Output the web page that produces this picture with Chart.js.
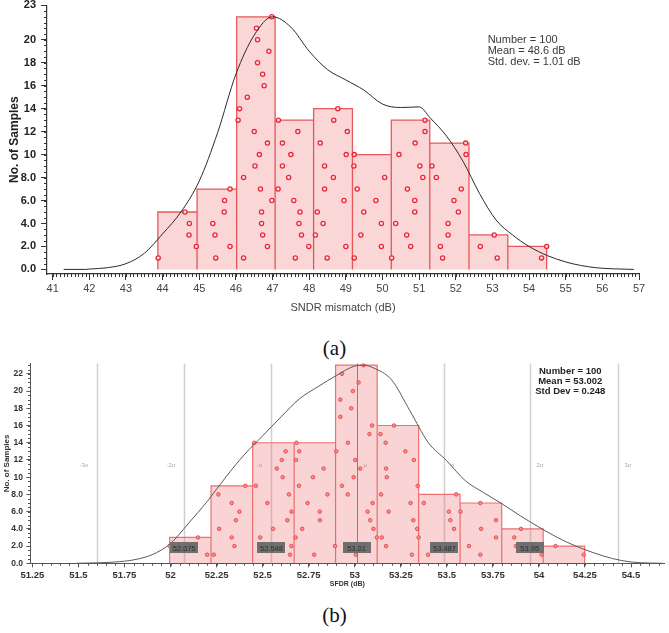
<!DOCTYPE html>
<html>
<head>
<meta charset="utf-8">
<script src="https://cdn.jsdelivr.net/npm/chart.js@4.4.1/dist/chart.umd.min.js"></script>
<style>
    body { margin: 0; background: #fff; width: 669px; height: 633px; position: relative; overflow: hidden; }
    .box { position: absolute; left: 0; width: 669px; }
    #boxA { top: 0; height: 322px; }
    #boxB { top: 356px; height: 240px; }
    .cap { position: absolute; left: 0; width: 669px; text-align: center; font-family: "Liberation Serif", serif; font-size: 21px; color: #111; line-height: 24px; }
</style>
</head>
<body>
<div class="box" id="boxA"><canvas id="chartA" width="669" height="322"></canvas></div>
<div class="cap" style="top:336px">(a)</div>
<div class="box" id="boxB"><canvas id="chartB" width="669" height="240"></canvas></div>
<div class="cap" style="top:603px">(b)</div>
<script>
(function () {
    "use strict";

    // (a) SNDR mismatch histogram
    var edgesA = [43.87, 44.94, 46.02, 47.07, 48.12, 49.18, 50.24, 51.29, 52.36, 53.42, 54.48];
    var countsA = [5, 7, 22, 13, 14, 10, 13, 11, 3, 2];
    // x of each sample dot per bin, the k-th entry sits at height k+1
    var dotsA = [
        [43.88, 44.92, 44.72, 44.73, 44.61],
        [45.45, 45.84, 45.43, 45.37, 45.68, 45.69, 45.84],
        [46.21, 46.86, 46.73, 46.70, 46.70, 46.98, 46.67, 46.21, 46.52, 46.64, 46.86, 46.50, 46.06, 46.10, 46.31, 46.77, 46.73, 46.59, 46.90, 46.59, 46.56, 46.98],
        [47.62, 47.99, 47.79, 47.72, 47.75, 47.58, 47.15, 47.44, 47.27, 47.50, 47.27, 47.69, 47.16],
        [48.49, 49.00, 48.17, 48.38, 48.22, 48.95, 48.42, 48.66, 48.42, 49.01, 48.30, 49.04, 48.67, 48.78],
        [49.23, 49.97, 49.41, 49.97, 49.49, 49.82, 49.31, 50.06, 49.22, 49.23],
        [50.25, 50.77, 50.66, 50.36, 50.88, 50.88, 50.68, 51.10, 51.02, 50.45, 50.89, 51.16, 51.16],
        [51.64, 51.58, 51.79, 51.79, 52.07, 51.95, 52.15, 51.47, 51.35, 52.28, 52.27],
        [53.13, 52.67, 53.05],
        [54.34, 54.48]
    ];
    var curveAx = [41.3, 41.9, 42.0, 42.5, 43.0, 43.5, 44.0, 44.5, 45.0, 45.5, 46.0, 46.5, 47.0, 47.5, 48.0, 48.5, 49.0, 49.5, 50.0, 50.5, 51.0, 51.3, 51.75, 52.2, 52.65, 53.1, 53.55, 54.0, 54.5, 55.0, 55.4, 55.85, 56.3, 56.86];
    var curveAy = [0, 0, 0.03, 0.15, 0.5, 1.4, 3.1, 5.0, 7.7, 11.9, 17.0, 20.4, 22.0, 21.1, 19.0, 17.4, 16.5, 15.6, 14.4, 14.1, 14.15, 13.2, 11.6, 9.4, 6.6, 4.3, 3.0, 2.0, 1.2, 0.65, 0.35, 0.14, 0.05, 0];
    var xTicksA = [41, 42, 43, 44, 45, 46, 47, 48, 49, 50, 51, 52, 53, 54, 55, 56, 57];
    var yTicksA = [0, 2, 4, 6, 8, 10, 12, 14, 16, 18, 20, 23];
    var statsA = ["Number = 100", "Mean = 48.6 dB", "Std. dev. = 1.01 dB"];

    // (b) SFDR histogram
    var edgesB = [51.995, 52.22, 52.446, 52.671, 52.896, 53.122, 53.347, 53.572, 53.798, 54.023, 54.248];
    var countsB = [3, 9, 14, 14, 23, 16, 8, 7, 4, 2];
    var dotsB = [
        [52.199, 51.996, 52.149],
        [52.235, 52.347, 52.332, 52.264, 52.355, 52.374, 52.332, 52.26, 52.406],
        [52.649, 52.656, 52.487, 52.557, 52.634, 52.657, 52.526, 52.643, 52.463, 52.609, 52.577, 52.604, 52.625, 52.455],
        [52.78, 52.893, 52.679, 52.715, 52.811, 52.81, 52.744, 52.852, 52.697, 52.773, 52.831, 52.681, 52.699, 52.684],
        [53.006, null, 53.12, 53.102, 53.084, 53.07, 53.097, 52.962, 52.931, 52.994, 53.03, 53.003, 52.9, 52.963, 53.08, 53.094, 52.922, 52.981, 52.922, 52.99, 53.021, 52.931, 53.048],
        [53.31, 53.17, 53.147, 53.339, 53.318, 53.184, 53.303, 53.143, 53.342, 53.174, 53.17, 53.321, 53.275, 53.168, 53.14, 53.213],
        [53.398, null, 53.347, 53.539, 53.519, 53.511, 53.375, 53.551],
        [53.682, 53.62, 53.767, 53.686, 53.767, 53.574, 53.682],
        [54.015, 53.875, 53.866, 53.903],
        [54.243, 54.09]
    ];
    var curveBx = [51.49, 51.6, 51.7, 51.8, 51.9, 52.0, 52.1, 52.2, 52.3, 52.4, 52.5, 52.6, 52.7, 52.8, 52.9, 53.0, 53.05, 53.1, 53.2, 53.3, 53.4, 53.5, 53.6, 53.7, 53.8, 53.9, 54.0, 54.1, 54.2, 54.3, 54.4, 54.5, 54.6, 54.67];
    var curveBy = [0, 0.05, 0.15, 0.4, 1.0, 2.3, 4.7, 7.2, 10.0, 12.6, 14.8, 17.0, 19.1, 20.5, 21.8, 22.9, 23.0, 22.7, 21.3, 17.7, 14.0, 11.9, 9.6, 8.2, 6.9, 5.5, 4.2, 3.0, 2.0, 1.2, 0.55, 0.15, 0.03, 0];
    var xTicksB = [51.25, 51.5, 51.75, 52, 52.25, 52.5, 52.75, 53, 53.25, 53.5, 53.75, 54, 54.25, 54.5];
    var yTicksB = [0, 2, 4, 6, 8, 10, 12, 14, 16, 18, 20, 22];
    var sigmaLinesB = [51.6, 52.075, 52.548, 53.01, 53.487, 53.95, 54.43];
    var sigmaNamesB = ["-3σ", "-2σ", "-σ", "μ", "σ", "2σ", "3σ"];
    var sigmaBoxesB = [null, "52.075", "52.548", "53.01", "53.487", "53.95", null];
    var statsB = ["Number = 100", "Mean = 53.002", "Std Dev = 0.248"];

    var SANS = '"Liberation Sans", Arial, sans-serif';

    function histPath(edges, counts) {
        var pts = [];
        for (var i = 0; i < counts.length; i++) {
            pts.push({x: edges[i], y: 0}, {x: edges[i], y: counts[i]},
                     {x: edges[i + 1], y: counts[i]}, {x: edges[i + 1], y: 0});
        }
        return pts;
    }
    function dotPoints(dots) {
        var pts = [];
        dots.forEach(function (col) {
            col.forEach(function (x, k) { if (x !== null) pts.push({x: x, y: k + 1}); });
        });
        return pts;
    }
    function xy(xs, ys) {
        return xs.map(function (x, i) { return {x: x, y: ys[i]}; });
    }
    function fixTicks(list) {
        return function (s) { s.ticks = list.map(function (v) { return {value: v}; }); };
    }
    // fixed axis size, no extra room for end labels
    function fitTo(prop, size) {
        return function (s) {
            s[prop] = size;
            s.paddingTop = 0; s.paddingBottom = 0; s.paddingLeft = 0; s.paddingRight = 0;
        };
    }
    function fmtY(v) { return v < 10 ? v.toFixed(1) : String(v); }

    // minor tick marks along the axes
    var ruler = {
        id: 'ruler',
        afterDraw: function (chart, args, opts) {
            var ctx = chart.ctx;
            ctx.save();
            ctx.strokeStyle = opts.color;
            ctx.lineWidth = 1;
            ['x', 'y'].forEach(function (id) {
                var o = opts[id];
                if (!o) return;
                var s = chart.scales[id];
                var n = Math.round((o.to - o.from) / o.step);
                ctx.beginPath();
                for (var k = 0; k <= n; k++) {
                    var p = Math.round(s.getPixelForValue(o.from + k * o.step)) + 0.5;
                    if (id === 'x') { ctx.moveTo(p, s.top); ctx.lineTo(p, s.top + o.len); }
                    else { ctx.moveTo(s.right, p); ctx.lineTo(s.right - o.len, p); }
                }
                ctx.stroke();
            });
            ctx.restore();
        }
    };

    // (a) stats text
    var notesA = {
        id: 'notesA',
        afterDraw: function (chart) {
            var ctx = chart.ctx, sx = chart.scales.x, sy = chart.scales.y;
            var x = sx.getPixelForValue(52.87), y = sy.getPixelForValue(20);
            ctx.save();
            ctx.font = '11px ' + SANS;
            ctx.fillStyle = '#3a3a3a';
            ctx.textBaseline = 'middle';
            statsA.forEach(function (t, i) { ctx.fillText(t, x, y + i * 11); });
            ctx.restore();
        }
    };

    // (b) sigma lines, value boxes and stats text
    var notesB = {
        id: 'notesB',
        beforeDatasetsDraw: function (chart) {
            var ctx = chart.ctx, sx = chart.scales.x, sy = chart.scales.y, a = chart.chartArea;
            ctx.save();
            sigmaLinesB.forEach(function (v, i) {
                var p = Math.round(sx.getPixelForValue(v)) + 0.5;
                ctx.strokeStyle = i === 3 ? '#7a7a7a' : '#cfcfcf';
                ctx.lineWidth = i === 3 ? 1 : 1.5;
                ctx.beginPath();
                ctx.moveTo(p, a.top);
                ctx.lineTo(p, a.bottom);
                ctx.stroke();
                ctx.font = '6px ' + SANS;
                ctx.fillStyle = '#aaa';
                ctx.textBaseline = 'middle';
                ctx.textAlign = i < 3 ? 'right' : 'left';
                ctx.fillText(sigmaNamesB[i], p + (i < 3 ? -9 : 6), sy.getPixelForValue(11.4));
            });
            ctx.restore();
        },
        afterDatasetsDraw: function (chart) {
            var ctx = chart.ctx, sx = chart.scales.x, sy = chart.scales.y;
            ctx.save();
            sigmaBoxesB.forEach(function (t, i) {
                if (!t) return;
                var cx = sx.getPixelForValue(sigmaLinesB[i]), cy = sy.getPixelForValue(1.78);
                ctx.fillStyle = '#6f6f6f';
                ctx.fillRect(Math.round(cx - 14), Math.round(cy - 5.5), 28, 11);
                ctx.font = '7.5px ' + SANS;
                ctx.fillStyle = '#2e2e2e';
                ctx.textAlign = 'center';
                ctx.textBaseline = 'middle';
                ctx.fillText(t, cx, cy + 1);
            });
            var x = sx.getPixelForValue(54.17), y = sy.getPixelForValue(22.24);
            ctx.font = 'bold 9.5px ' + SANS;
            ctx.fillStyle = '#222';
            ctx.textAlign = 'center';
            ctx.textBaseline = 'middle';
            statsB.forEach(function (t, i) { ctx.fillText(t, x, y + i * 9.7); });
            ctx.restore();
        }
    };

    // SNDR chart
    new Chart(document.getElementById('chartA'), {
        type: 'scatter',
        data: {
            datasets: [{
                type: 'line',
                data: xy(curveAx, curveAy),
                borderColor: '#2a2a2a',
                borderWidth: 1,
                pointRadius: 0,
                cubicInterpolationMode: 'monotone',
                fill: false,
                order: 0
            }, {
                data: dotPoints(dotsA),
                pointRadius: 2.1,
                pointBorderWidth: 1.3,
                pointBorderColor: '#e8283a',
                pointBackgroundColor: 'rgba(255,225,225,0.9)',
                order: 1
            }, {
                type: 'line',
                data: histPath(edgesA, countsA),
                borderColor: 'rgba(226,62,66,0.85)',
                borderWidth: 1.3,
                backgroundColor: 'rgba(236,96,100,0.26)',
                fill: 'origin',
                pointRadius: 0,
                tension: 0,
                order: 2
            }]
        },
        options: {
            responsive: false,
            animation: false,
            layout: {padding: {left: 0, right: 30, top: 3.6, bottom: 4}},
            plugins: {
                legend: {display: false},
                tooltip: {enabled: false},
                ruler: {color: '#333', x: {from: 41, to: 57, step: 0.1, len: 3}, y: {from: 0, to: 23, step: 0.5, len: 3}}
            },
            scales: {
                x: {
                    type: 'linear', min: 40.845, max: 57,
                    afterBuildTicks: fixTicks(xTicksA),
                    afterFit: fitTo('height', 44),
                    ticks: {font: {family: SANS, size: 11}, color: '#444', padding: 2, maxRotation: 0, autoSkip: false,
                            callback: function (v) { return String(v); }},
                    grid: {drawOnChartArea: false, tickLength: 6, color: '#333'},
                    border: {color: '#333', width: 1.2},
                    title: {display: true, text: 'SNDR mismatch (dB)', font: {family: SANS, size: 11}, color: '#444',
                            padding: {top: 0, bottom: 3.4}}
                },
                y: {
                    min: -0.4, max: 23,
                    afterBuildTicks: fixTicks(yTicksA),
                    afterFit: fitTo('width', 47),
                    ticks: {font: {family: SANS, size: 11, weight: 'bold'}, color: '#222', padding: 5,
                            autoSkip: false, callback: fmtY},
                    grid: {drawOnChartArea: false, tickLength: 6, color: '#333'},
                    border: {color: '#333', width: 1.2},
                    title: {display: true, text: 'No. of Samples', font: {family: SANS, size: 12, weight: 'bold'}, color: '#222',
                            padding: {top: 7, bottom: 0}}
                }
            }
        },
        plugins: [ruler, notesA]
    });

    // SFDR chart
    new Chart(document.getElementById('chartB'), {
        type: 'scatter',
        data: {
            datasets: [{
                type: 'line',
                data: xy(curveBx, curveBy),
                borderColor: '#5a5a5a',
                borderWidth: 1,
                pointRadius: 0,
                cubicInterpolationMode: 'monotone',
                fill: false,
                order: 0
            }, {
                data: dotPoints(dotsB),
                pointRadius: 1.8,
                pointBorderWidth: 0.8,
                pointBorderColor: '#e8383f',
                pointBackgroundColor: '#f39090',
                order: 1
            }, {
                type: 'line',
                data: histPath(edgesB, countsB),
                borderColor: 'rgba(236,90,92,0.85)',
                borderWidth: 1.2,
                backgroundColor: 'rgba(238,110,112,0.3)',
                fill: 'origin',
                pointRadius: 0,
                tension: 0,
                order: 2
            }]
        },
        options: {
            responsive: false,
            animation: false,
            layout: {padding: {left: 0, right: 0, top: 7.5, bottom: 4}},
            plugins: {
                legend: {display: false},
                tooltip: {enabled: false},
                ruler: {color: '#555', x: {from: 51.25, to: 54.65, step: 0.05, len: 2.5}, y: {from: 0, to: 23, step: 0.5, len: 2.5}}
            },
            scales: {
                x: {
                    type: 'linear', min: 51.24, max: 54.68,
                    afterBuildTicks: fixTicks(xTicksB),
                    afterFit: fitTo('height', 28.7),
                    ticks: {font: {family: SANS, size: 9.5, weight: 'bold'}, color: '#333', padding: 2, maxRotation: 0, autoSkip: false,
                            callback: function (v) { return String(v); }},
                    grid: {drawOnChartArea: false, tickLength: 4, color: '#555'},
                    border: {color: '#555', width: 1},
                    title: {display: true, text: 'SFDR (dB)', font: {family: SANS, size: 7, weight: 'bold'}, color: '#333',
                            padding: {top: 0, bottom: 3.8}}
                },
                y: {
                    min: 0, max: 23.2,
                    afterBuildTicks: fixTicks(yTicksB),
                    afterFit: fitTo('width', 30.5),
                    ticks: {font: {family: SANS, size: 8.5, weight: 'bold'}, color: '#333', padding: 3.5,
                            autoSkip: false, callback: fmtY},
                    grid: {drawOnChartArea: false, tickLength: 4, color: '#555'},
                    border: {color: '#555', width: 1},
                    title: {display: true, text: 'No. of Samples', font: {family: SANS, size: 8, weight: 'bold'}, color: '#333',
                            padding: {top: 2, bottom: 0}}
                }
            }
        },
        plugins: [ruler, notesB]
    });

})();
</script>
</body>
</html>
